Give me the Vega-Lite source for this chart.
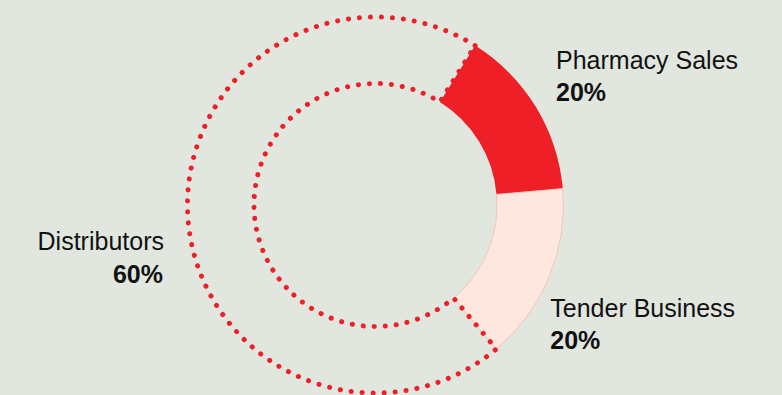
{
  "$schema": "https://vega.github.io/schema/vega-lite/v6.json",
  "width": 751,
  "height": 380,
  "autosize": {"type": "none"},
  "padding": {"left": 0, "top": 15, "right": 31, "bottom": 0},
  "background": "#e1e7df",
  "config": {"view": {"stroke": null}},
  "data": {
    "values": [
      {"category": "Distributors", "value": 252, "pct": "60%"},
      {"category": "Pharmacy Sales", "value": 53, "pct": "20%"},
      {"category": "Tender Business", "value": 55, "pct": "20%"}
    ]
  },
  "encoding": {
    "theta": {"field": "value", "type": "quantitative", "stack": true, "scale": {"domain": [0, 360], "range": [2.4435, 8.7267]}},
    "order": {"field": "category", "sort": "ascending"}
  },
  "layer": [
    {
      "mark": {"type": "arc", "outerRadius": 188, "innerRadius": 121.5, "strokeWidth": 1},
      "encoding": {
        "color": {"field": "category", "type": "nominal", "legend": null,
          "scale": {"domain": ["Distributors", "Pharmacy Sales", "Tender Business"], "range": ["transparent", "#ee1f27", "#fde7de"]}},
        "stroke": {"condition": {"test": "datum.category === 'Tender Business'", "value": "#f6c3b7"}, "value": "transparent"}
      }
    },
    {
      "mark": {"type": "arc", "outerRadius": 188, "innerRadius": 121.5, "fill": "transparent", "strokeWidth": 5, "strokeDash": [0.1, 10.9], "strokeCap": "round"},
      "encoding": {
        "stroke": {"condition": {"test": "datum.category === 'Distributors'", "value": "#ee1f27"}, "value": "transparent"}
      }
    },
    {
      "mark": {"type": "text", "radius": 200, "align": "left", "baseline": "alphabetic", "dx": 10, "dy": -31.5, "font": "Liberation Sans", "fontSize": 25, "color": "#111111"},
      "encoding": {"text": {"condition": {"test": "datum.category === 'Pharmacy Sales'", "field": "category"}, "value": ""}}
    },
    {
      "mark": {"type": "text", "radius": 200, "align": "left", "baseline": "alphabetic", "dx": 10, "dy": 0, "font": "Liberation Sans", "fontSize": 25, "fontWeight": "bold", "color": "#111111"},
      "encoding": {"text": {"condition": {"test": "datum.category === 'Pharmacy Sales'", "field": "pct"}, "value": ""}}
    },
    {
      "mark": {"type": "text", "radius": 200, "align": "left", "baseline": "alphabetic", "dx": -10, "dy": 35, "font": "Liberation Sans", "fontSize": 25, "color": "#111111"},
      "encoding": {"text": {"condition": {"test": "datum.category === 'Tender Business'", "field": "category"}, "value": ""}}
    },
    {
      "mark": {"type": "text", "radius": 200, "align": "left", "baseline": "alphabetic", "dx": -10, "dy": 67, "font": "Liberation Sans", "fontSize": 25, "fontWeight": "bold", "color": "#111111"},
      "encoding": {"text": {"condition": {"test": "datum.category === 'Tender Business'", "field": "pct"}, "value": ""}}
    },
    {
      "mark": {"type": "text", "radius": 200, "align": "right", "baseline": "alphabetic", "dx": -12, "dy": 31, "font": "Liberation Sans", "fontSize": 25, "color": "#111111"},
      "encoding": {"text": {"condition": {"test": "datum.category === 'Distributors'", "field": "category"}, "value": ""}}
    },
    {
      "mark": {"type": "text", "radius": 200, "align": "right", "baseline": "alphabetic", "dx": -13, "dy": 64, "font": "Liberation Sans", "fontSize": 25, "fontWeight": "bold", "color": "#111111"},
      "encoding": {"text": {"condition": {"test": "datum.category === 'Distributors'", "field": "pct"}, "value": ""}}
    }
  ]
}
